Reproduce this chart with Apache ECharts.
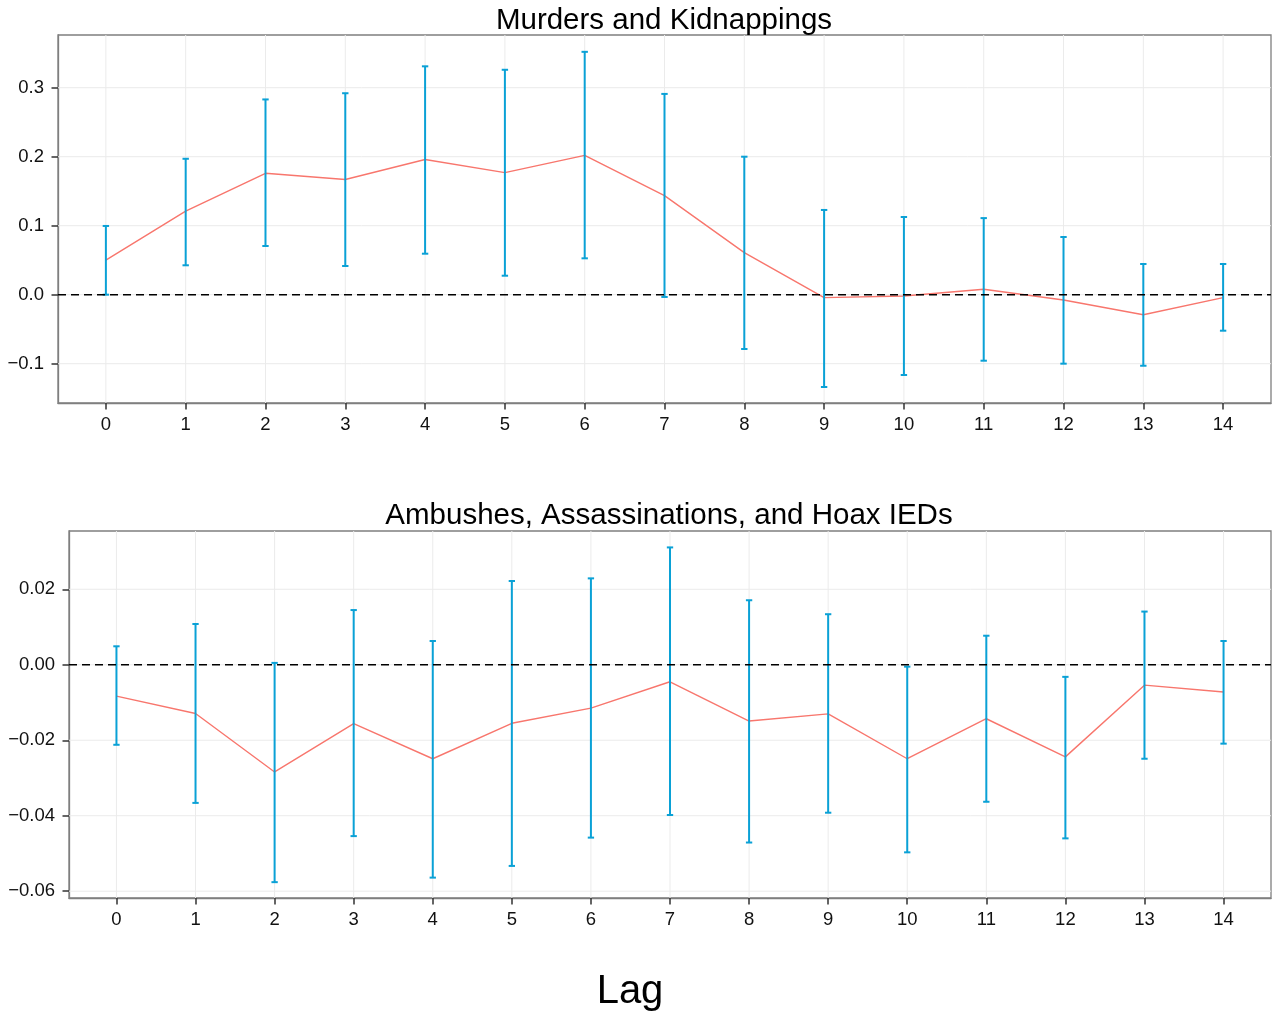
<!DOCTYPE html>
<html>
<head>
<meta charset="utf-8">
<script src="https://cdn.jsdelivr.net/npm/echarts@6/dist/echarts.min.js"></script>
<style>
html,body{margin:0;padding:0;background:#fff;}
#main{width:1277px;height:1012px;}
</style>
</head>
<body>
<div id="main"></div>
<script>
// ---- data ----
var lags = [0,1,2,3,4,5,6,7,8,9,10,11,12,13,14];
var xTickLabels = ['0','1','2','3','4','5','6','7','8','9','10','11','12','13','14'];

var murdersTitle = 'Murders and Kidnappings';
var murdersEst   = [0.050,0.121,0.176,0.167,0.196,0.177,0.202,0.1435,0.061,-0.0043,-0.0019,0.0078,-0.0077,-0.029,-0.0043];
var murdersLower = [0.000,0.0426,0.0706,0.0416,0.0594,0.0275,0.0527,-0.0033,-0.0787,-0.1338,-0.1164,-0.0957,-0.100,-0.103,-0.0522];
var murdersUpper = [0.0996,0.197,0.283,0.292,0.331,0.326,0.352,0.291,0.200,0.1228,0.1126,0.111,0.0836,0.0445,0.0445];
var murdersYTicks = [-0.1,0.0,0.1,0.2,0.3];
var murdersYTickLabels = ['\u22120.1','0.0','0.1','0.2','0.3'];

var ambushTitle = 'Ambushes, Assassinations, and Hoax IEDs';
var ambushEst   = [-0.0083,-0.0129,-0.0284,-0.0156,-0.0249,-0.0155,-0.0115,-0.0045,-0.0149,-0.0130,-0.0249,-0.0143,-0.0244,-0.0054,-0.0072];
var ambushLower = [-0.0212,-0.0366,-0.0576,-0.0454,-0.0564,-0.0533,-0.0458,-0.0398,-0.0471,-0.0392,-0.0497,-0.0363,-0.0460,-0.0249,-0.0209];
var ambushUpper = [0.0049,0.0108,0.0005,0.0145,0.0063,0.0222,0.0229,0.0311,0.0171,0.0134,-0.0005,0.0077,-0.0032,0.0141,0.0063];
var ambushYTicks = [-0.06,-0.04,-0.02,0.00,0.02];
var ambushYTickLabels = ['\u22120.06','\u22120.04','\u22120.02','0.00','0.02'];

var zeroLine = [0];
var xLabel = 'Lag';

// ---- style ----
var FONT = "'Liberation Sans', Arial, Helvetica, sans-serif";
var LINE_COLOR = '#F8766D';
var BAR_COLOR = '#0AA1D6';
var GRID_COLOR = '#EBEBEB';
var BORDER_COLOR = '#7F7F7F';
var TICK_COLOR = '#333333';
var TICK_LEN = 6.5;
var CAP_HALF = 0.04;

var chart = echarts.init(document.getElementById('main'), null, {renderer:'canvas'});

function makeXAxis(gi){
  return {
    type:'value', gridIndex:gi, min:-0.6, max:14.6, position:'bottom',
    axisLine:{show:true, onZero:false, lineStyle:{color:BORDER_COLOR, width:1.3}},
    splitLine:{show:false},
    axisTick:{show:true, length:TICK_LEN, lineStyle:{color:TICK_COLOR, width:1.5}, customValues:lags},
    axisLabel:{color:'#111', fontSize:18.5, fontFamily:FONT, margin:12, customValues:lags,
      formatter:function(v){ var i = lags.indexOf(Math.round(v)); return i>=0 ? xTickLabels[i] : ''; }}
  };
}
function makeYAxis(gi, mn, mx, ticks, labels){
  return {
    type:'value', gridIndex:gi, min:mn, max:mx, position:'left',
    axisLine:{show:true, onZero:false, lineStyle:{color:BORDER_COLOR, width:1.3}},
    splitLine:{show:false},
    axisTick:{show:true, length:TICK_LEN, lineStyle:{color:TICK_COLOR, width:1.5}, customValues:ticks},
    axisLabel:{color:'#111', fontSize:18.5, fontFamily:FONT, margin:14, customValues:ticks,
      formatter:function(v){
        for (var i=0;i<ticks.length;i++){ if (Math.abs(ticks[i]-v)<1e-9) return labels[i]; }
        return '';
      }}
  };
}

function gridSeries(idx, vals, dir){
  return {
    type:'custom', xAxisIndex:idx, yAxisIndex:idx, z:1, silent:true,
    data: vals.map(function(v){return [v];}),
    renderItem:function(params, api){
      var cs = params.coordSys;
      var v = api.value(0);
      var g;
      if (dir==='v'){
        var px = api.coord([v, 0])[0];
        g = {x1:px, y1:cs.y, x2:px, y2:cs.y+cs.height};
      } else {
        var py = api.coord([0, v])[1];
        g = {x1:cs.x, y1:py, x2:cs.x+cs.width, y2:py};
      }
      return {type:'line', shape:g, style:{stroke:GRID_COLOR, lineWidth:1}};
    }
  };
}

function zeroSeries(idx){
  return {
    type:'custom', xAxisIndex:idx, yAxisIndex:idx, z:5, silent:true,
    data: zeroLine.map(function(v){return [v];}),
    renderItem:function(params, api){
      var cs = params.coordSys;
      var py = api.coord([0, api.value(0)])[1];
      return {type:'line', shape:{x1:cs.x, y1:py, x2:cs.x+cs.width, y2:py},
        style:{stroke:'#000', lineWidth:1.5, lineDash:[8,5]}};
    }
  };
}

function errSeries(idx, lower, upper){
  return {
    type:'custom', xAxisIndex:idx, yAxisIndex:idx, z:4, silent:true,
    data: lags.map(function(l,i){return [l, lower[i], upper[i]];}),
    renderItem:function(params, api){
      var x = api.value(0);
      var lo = api.coord([x, api.value(1)]);
      var hi = api.coord([x, api.value(2)]);
      var lL = api.coord([x-CAP_HALF, api.value(1)]);
      var lR = api.coord([x+CAP_HALF, api.value(1)]);
      var hL = api.coord([x-CAP_HALF, api.value(2)]);
      var hR = api.coord([x+CAP_HALF, api.value(2)]);
      var st = {stroke:BAR_COLOR, lineWidth:2};
      return {type:'group', children:[
        {type:'line', shape:{x1:lo[0],y1:lo[1],x2:hi[0],y2:hi[1]}, style:st},
        {type:'line', shape:{x1:lL[0],y1:lL[1],x2:lR[0],y2:lR[1]}, style:st},
        {type:'line', shape:{x1:hL[0],y1:hL[1],x2:hR[0],y2:hR[1]}, style:st}
      ]};
    }
  };
}

function lineSeries(idx, est){
  return {
    type:'line', xAxisIndex:idx, yAxisIndex:idx, z:3, silent:true,
    data: lags.map(function(l,i){return [l, est[i]];}),
    showSymbol:false, symbol:'none',
    lineStyle:{color:LINE_COLOR, width:1.4},
    animation:false
  };
}

var option = {
  animation:false,
  backgroundColor:'#fff',
  grid:[
    {left:58, top:35, width:1213, height:368, show:true, borderColor:BORDER_COLOR, borderWidth:1.3, backgroundColor:'transparent'},
    {left:69, top:531, width:1202, height:367, show:true, borderColor:BORDER_COLOR, borderWidth:1.3, backgroundColor:'transparent'}
  ],
  xAxis:[ makeXAxis(0), makeXAxis(1) ],
  yAxis:[
    makeYAxis(0, -0.157, 0.3764, murdersYTicks, murdersYTickLabels),
    makeYAxis(1, -0.0618, 0.03545, ambushYTicks, ambushYTickLabels)
  ],
  graphic:[
    {type:'text', x:664, y:21, style:{text:murdersTitle, fontSize:29.5, fontFamily:FONT, fill:'#000', align:'center', verticalAlign:'middle'}},
    {type:'text', x:669, y:516, style:{text:ambushTitle, fontSize:29.5, fontFamily:FONT, fill:'#000', align:'center', verticalAlign:'middle'}},
    {type:'text', x:630, y:992, style:{text:xLabel, fontSize:40, fontFamily:FONT, fill:'#000', align:'center', verticalAlign:'middle'}}
  ],
  series:[
    gridSeries(0, lags, 'v'), gridSeries(0, murdersYTicks, 'h'),
    lineSeries(0, murdersEst), errSeries(0, murdersLower, murdersUpper), zeroSeries(0),
    gridSeries(1, lags, 'v'), gridSeries(1, ambushYTicks, 'h'),
    lineSeries(1, ambushEst), errSeries(1, ambushLower, ambushUpper), zeroSeries(1)
  ]
};
chart.setOption(option);
</script>
</body>
</html>
